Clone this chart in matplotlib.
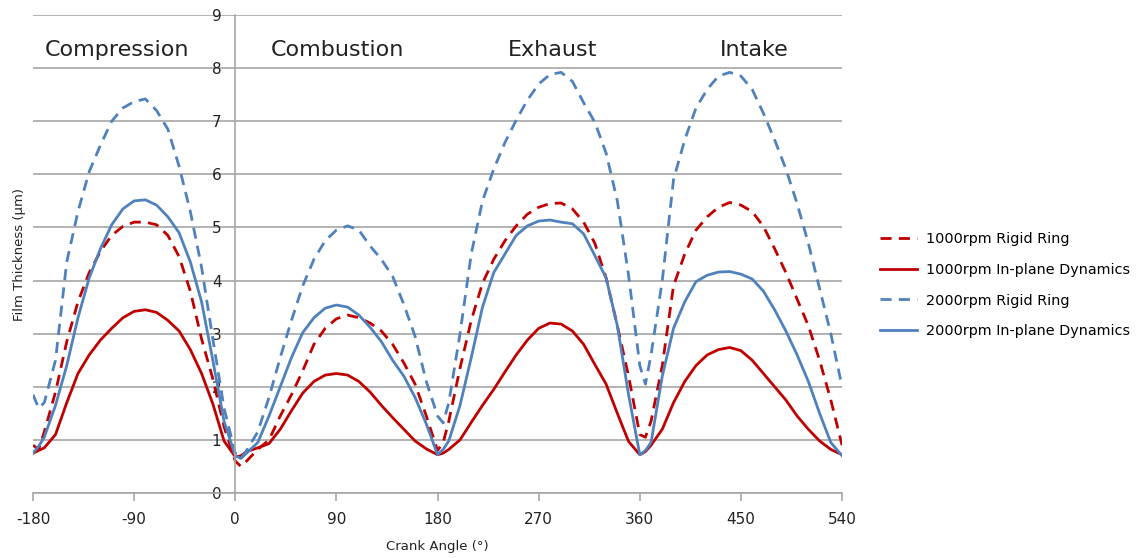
import numpy as np
from matplotlib import pyplot as plt

plt.rcParams['axes.unicode_minus'] = False

# crank angle (deg) shared by all four series
angle = [-180, -175, -170, -160, -150, -140, -130, -120, -110, -100, -90, -80, -70, -60, -50, -40, -30, -20, -10,
         0, 5, 10, 20, 30, 40, 50, 60, 70, 80, 90, 100, 110, 120, 130, 140, 150, 160, 170,
         180, 185, 190, 200, 210, 220, 230, 240, 250, 260, 270, 280, 290, 300, 310, 320, 330, 340, 350,
         360, 365, 370, 380, 390, 400, 410, 420, 430, 440, 450, 460, 470, 480, 490, 500, 510, 520, 530, 540]

rigid_1000 = [0.9, 0.82, 1.15, 1.9, 2.85, 3.6, 4.15, 4.55, 4.85, 5.02, 5.1, 5.1, 5.05, 4.85, 4.45, 3.8, 2.9, 2.15, 1.25,
              0.6, 0.5, 0.6, 0.82, 1.0, 1.45, 1.85, 2.3, 2.8, 3.1, 3.28, 3.35, 3.3, 3.2, 3.05, 2.8, 2.45, 2.05, 1.45,
              0.8, 0.95, 1.35, 2.35, 3.25, 3.95, 4.4, 4.75, 5.03, 5.25, 5.38, 5.45, 5.46, 5.35, 5.1, 4.7, 4.05, 3.15, 2.2,
              1.1, 1.05, 1.35, 2.4, 3.9, 4.5, 4.95, 5.2, 5.38, 5.47, 5.42, 5.3, 5.02, 4.6, 4.15, 3.65, 3.15, 2.5, 1.75, 0.9]

dyn_1000 = [0.75, 0.8, 0.85, 1.1, 1.7, 2.25, 2.6, 2.88, 3.1, 3.3, 3.42, 3.45, 3.4, 3.25, 3.05, 2.7, 2.25, 1.68, 0.98,
            0.68, 0.7, 0.78, 0.85, 0.93, 1.2, 1.55, 1.88, 2.1, 2.22, 2.25, 2.22, 2.1, 1.9, 1.65, 1.42, 1.2, 0.98, 0.83,
            0.72, 0.75, 0.82, 1.0, 1.33, 1.65, 1.95, 2.28, 2.6, 2.88, 3.1, 3.2, 3.18, 3.05, 2.8, 2.42, 2.05, 1.5, 0.97,
            0.72, 0.78, 0.9, 1.2, 1.7, 2.1, 2.4, 2.6, 2.7, 2.74, 2.68, 2.5, 2.25, 2.0, 1.75, 1.45, 1.2, 0.98, 0.82, 0.72]

rigid_2000 = [1.85, 1.6, 1.7, 2.5, 4.35, 5.3, 6.05, 6.55, 7.0, 7.25, 7.37, 7.42, 7.2, 6.85, 6.15, 5.3, 4.25, 2.9, 1.6,
              0.75, 0.65, 0.8, 1.15, 1.8, 2.55, 3.25, 3.9, 4.4, 4.75, 4.95, 5.03, 4.95, 4.65, 4.4, 4.08, 3.55, 2.95, 2.1,
              1.45, 1.32, 1.7, 3.0, 4.5, 5.5, 6.1, 6.6, 7.02, 7.4, 7.7, 7.88, 7.92, 7.75, 7.35, 6.98, 6.4, 5.5, 4.1,
              2.4, 2.05, 2.6, 4.0, 5.9, 6.65, 7.25, 7.6, 7.85, 7.92, 7.85, 7.6, 7.15, 6.65, 6.1, 5.45, 4.7, 3.85, 3.0, 2.0]

dyn_2000 = [0.75, 0.88, 1.05, 1.65, 2.4, 3.3, 4.05, 4.6, 5.05, 5.35, 5.5, 5.52, 5.42, 5.2, 4.9, 4.35, 3.6, 2.5, 1.35,
            0.7, 0.65, 0.75, 0.95, 1.45, 2.0, 2.55, 3.02, 3.3, 3.48, 3.54, 3.5, 3.35, 3.12, 2.85, 2.5, 2.2, 1.8, 1.3,
            0.72, 0.82, 0.98, 1.65, 2.55, 3.5, 4.15, 4.5, 4.85, 5.03, 5.12, 5.14, 5.1, 5.07, 4.88, 4.47, 4.05, 3.15, 1.85,
            0.72, 0.8, 0.95, 2.2, 3.1, 3.6, 3.98, 4.1, 4.16, 4.17, 4.12, 4.03, 3.8, 3.45, 3.05, 2.6, 2.1, 1.5, 0.95, 0.7]

strokes = ['Compression', 'Combustion', 'Exhaust', 'Intake']
stroke_x = [-105, 91, 282, 462]

red = '#C00000'
blue = '#4F81BD'
grid = '#A6A6A6'
dash = (0, (4, 2.6))

fig = plt.figure(figsize=(11.39, 5.58), dpi=100)
ax = fig.add_axes([0.029, 0.1165, 0.7103, 0.8566])

ax.plot(angle, rigid_1000, color=red, lw=2, ls=dash, label='1000rpm Rigid Ring')
ax.plot(angle, dyn_1000, color=red, lw=2, label='1000rpm In-plane Dynamics')
ax.plot(angle, rigid_2000, color=blue, lw=2, ls=dash, label='2000rpm Rigid Ring')
ax.plot(angle, dyn_2000, color=blue, lw=2, label='2000rpm In-plane Dynamics')

ax.set_xlim(-180, 540)
ax.set_ylim(0, 9)
ax.set_xticks(np.arange(-180, 541, 90))
ax.set_yticks(np.arange(0, 10, 1))
ax.yaxis.grid(True, color=grid, lw=1.2)
ax.set_axisbelow(True)

for s in ['top', 'right']:
    ax.spines[s].set_visible(False)
ax.spines['left'].set_position(('data', 0))
ax.spines['left'].set_color(grid)
ax.spines['left'].set_linewidth(1.2)
ax.spines['bottom'].set_color(grid)
ax.spines['bottom'].set_linewidth(1.2)
ax.tick_params(axis='x', colors=grid, length=6, width=1.2, labelcolor='#222222', labelsize=11, pad=8)
ax.tick_params(axis='y', length=0, labelcolor='#222222', labelsize=11, pad=10)

ax.set_xlabel('Crank Angle (°)', fontsize=9.5, color='#222222', labelpad=9)
ax.set_ylabel('Film Thickness (µm)', fontsize=9.5, color='#222222')
ax.yaxis.set_label_coords(-0.009, 0.5)

for name, x in zip(strokes, stroke_x):
    ax.text(x, 8.35, name, ha='center', va='center', fontsize=16, color='#222222')

fig.legend(loc='upper left', bbox_to_anchor=(0.761, 0.607), frameon=False, fontsize=10.4,
           handlelength=2.6, labelspacing=1.15, handletextpad=0.6)

fig.savefig('out.png', dpi=100)
